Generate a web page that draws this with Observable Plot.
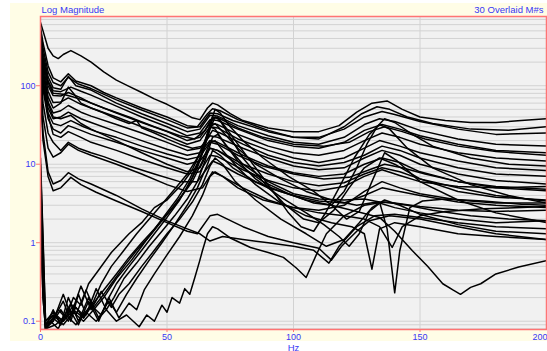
<!DOCTYPE html>
<html><head><meta charset="utf-8">
<script src="https://cdn.jsdelivr.net/npm/d3@7"></script>
<script src="https://cdn.jsdelivr.net/npm/@observablehq/plot@0.6"></script>
<style>
html,body{margin:0;padding:0;background:#fff;}
#wrap{position:relative;width:547px;height:351px;overflow:hidden;}
#cream{position:absolute;left:10px;top:3px;width:537px;height:338px;background:#fffde6;}
#chart{position:absolute;left:0;top:0;}
</style></head><body>
<div id="wrap"><div id="cream"></div><div id="chart"></div></div>
<script>
// Tick labels and gridlines
const xTicks = [0, 50, 100, 150];
const xLastTick = [200];
const xGrid = [50, 100, 150];
const yTicks = [0.1, 1, 10, 100];
const yGrid = [0.08,0.09,0.1,0.2,0.3,0.4,0.5,0.6,0.7,0.8,0.9,1,2,3,4,5,6,7,8,9,10,20,30,40,50,60,70,80,90,100,200,300,400,500,600,700];
const title = "Log Magnitude";
const subtitle = "30 Overlaid M#s";
const xLabel = "Hz";

// 30 overlaid magnitude curves: [frequency Hz, magnitude]
const h01 = [[0,640],[1,500],[3,300],[5,240],[7,222],[9,250],[12,280],[16,240],[20,200],[25,150],[30,118],[35,98],[40,82],[45,68],[50,58],[55,48],[60,39],[63,37],[66,52],[68,60],[70,57],[75,44],[80,36],[90,29],[100,26],[110,26],[118,31],[125,46],[131,60],[137,64],[143,50],[150,40],[160,36],[170,34],[180,34],[190,36],[200,38]];
const h02 = [[0,560],[1,350],[3,180],[5,126],[8,112],[11,142],[14,115],[20,100],[25,82],[30,70],[40,52],[50,40],[58,31],[62,30],[66,44],[68,51],[71,48],[78,37],[90,27],[100,22],[110,21],[120,30],[127,44],[133,54],[138,50],[145,40],[155,33],[170,28],[185,27],[200,30]];
const h03 = [[0,500],[1,300],[3,150],[5,110],[8,100],[11,128],[15,105],[20,92],[30,66],[40,49],[50,37],[58,29],[63,30],[67,45],[70,44],[76,36],[90,26],[100,22],[110,22],[120,28],[128,40],[135,47],[140,43],[150,35],[165,28],[180,24],[200,25]];
const h04 = [[0,450],[1,260],[3,130],[5,94],[8,90],[11,132],[14,100],[20,88],[30,60],[40,44],[50,33],[58,26],[63,28],[67,42],[70,41],[78,31],[90,23],[100,19],[110,18],[120,22],[128,32],[134,38],[140,35],[150,27],[165,21],[180,18],[200,17]];
const h05 = [[0,420],[1,230],[3,115],[5,86],[8,84],[12,96],[16,85],[20,76],[30,55],[40,40],[50,30],[58,23],[63,25],[67,37],[70,36],[78,28],[90,20],[100,17],[110,16],[120,19],[128,27],[135,32],[142,28],[150,23],[165,18],[180,15],[200,14]];
const h06 = [[0,380],[1,200],[3,100],[5,75],[8,74],[11,82],[16,70],[20,60],[30,45],[40,34],[50,26],[58,20],[63,22],[67,33],[70,32],[78,24],[90,17],[100,14],[110,13],[120,15],[128,20],[135,25],[142,22],[150,18],[165,14],[180,12],[200,11]];
const h07 = [[0,350],[1,180],[3,85],[5,61],[8,62],[11,70],[16,58],[20,52],[30,40],[40,30],[50,23],[58,18],[63,20],[67,30],[70,29],[78,21],[90,15],[100,12],[110,10.5],[120,12],[128,16],[134,20],[142,17],[150,14],[165,11],[180,9],[200,8.3]];
const h08 = [[0,320],[1,160],[3,72],[5,52],[8,60],[11,96],[13,80],[16,60],[20,52],[25,45],[30,38],[35,33],[38,36],[40,29],[45,25],[50,21],[55,18],[60,16],[64,17],[68,27],[71,25],[80,18],[90,13],[100,10.5],[110,9.5],[120,10.5],[128,13],[135,17],[142,15],[150,12],[165,9],[180,7.5],[200,7]];
const h09 = [[0,300],[1,140],[3,62],[5,45],[8,48],[11,56],[16,46],[20,41],[30,32],[40,25],[50,19],[58,15],[63,16],[67,23],[70,22],[80,16],[90,12],[100,9.5],[110,8.5],[120,9],[128,12],[135,15],[142,13],[150,10],[165,7.5],[180,6.2],[200,5.6]];
const h10 = [[0,270],[1,120],[3,52],[5,38],[8,40],[11,46],[16,38],[20,34],[30,26],[40,20],[50,15.5],[58,13],[63,14],[67,20],[70,19],[80,13],[90,9.5],[100,7.8],[110,7],[120,7.5],[128,10],[135,12],[142,10.5],[150,8],[165,6],[180,5],[200,4.6]];
const h11 = [[0,240],[1,90],[3,38],[5,28],[8,25],[11,31],[16,27],[20,24],[30,19],[40,15],[50,12],[58,10],[63,11],[67,16],[70,15],[80,10],[90,7.5],[100,6],[110,5.3],[120,5.8],[128,7.5],[135,9],[142,8],[150,6.5],[165,5],[180,4],[200,3.4]];
const h12 = [[0,200],[1,60],[3,25],[5,19],[8,15],[11,19],[15,16],[20,14],[25,12.5],[35,9.5],[45,7.5],[55,6],[62,6],[66,9],[68,11],[71,10],[78,7.5],[90,5],[100,4],[110,3.4],[120,3.2],[128,4],[135,5],[142,4.5],[150,4],[165,3.3],[180,3],[200,2.8]];
const h13 = [[0,400],[1,210],[3,110],[5,80],[9,78],[13,72],[18,64],[25,52],[35,40],[45,30],[55,23],[61,21],[65,27],[68,40],[71,38],[78,29],[88,22],[100,18],[112,17],[122,19],[130,26],[136,30],[143,26],[152,21],[165,17],[180,14.5],[200,13]];
const h14 = [[0,280],[1,110],[3,45],[5,33],[8,31],[12,36],[17,30],[22,26],[30,22],[40,17],[50,13.5],[58,11.5],[63,12.5],[67,19],[70,18],[78,13],[88,9.5],[100,7.5],[112,6.5],[122,6.8],[130,8.5],[136,10],[143,9],[152,7.5],[165,6],[180,5.2],[200,4.8]];
const h15 = [[0,260],[1,100],[3,42],[5,24],[8,22],[11,26],[16,22],[20,19],[30,15],[40,11.5],[50,9],[58,7.5],[63,8],[67,13],[70,12.5],[80,8.5],[90,6.2],[100,5],[110,4.6],[120,5.2],[128,7],[135,8.5],[142,7.2],[150,6],[165,5.2],[180,5],[200,5.2]];
const m01 = [[0,150],[1,40],[3,16],[5,12.3],[8,14],[11,18],[15,15],[20,13],[30,10],[40,7.5],[50,5.5],[58,4.5],[64,5],[68,8],[72,7],[80,5],[90,3.5],[100,2.8],[110,2.6],[120,3],[128,4.5],[135,6],[142,5],[150,4.2],[165,3.5],[180,3.2],[200,3.2]];
const m02 = [[0,100],[1,25],[3,8],[5,5.6],[8,6.2],[11,7.8],[15,6.5],[20,5.6],[30,4],[40,2.7],[50,1.9],[58,1.5],[63,1.3],[67,1.05],[72,1.2],[80,1.1],[90,1.0],[100,0.9],[108,0.8],[114,0.55],[118,0.9],[125,1.6],[132,2.2],[140,2.3],[150,2.1],[165,1.8],[180,1.6],[200,1.5]];
const m03 = [[0,80],[1,20],[3,7],[5,4.6],[8,5],[12,6.8],[16,5.5],[22,4.4],[30,3.4],[40,2.5],[50,1.8],[58,1.4],[62,1.3],[67,2.2],[70,2.3],[80,1.6],[90,1.2],[100,1.0],[110,0.85],[115,0.6],[119,0.9],[125,1.4],[130,1.9],[138,2.2],[150,2.0],[165,1.6],[180,1.3],[200,1.1]];
const l01 = [[0,4],[1,0.4],[2,0.09],[4,0.1],[7,0.14],[10,0.11],[13,0.2],[16,0.16],[19,0.3],[23,0.45],[28,0.75],[35,1.3],[40,1.8],[45,2.8],[50,3.5],[56,5.6],[60,8.5],[64,16],[67,30],[69,33],[72,26],[78,16],[85,10],[95,6.5],[105,4.5],[115,3.5],[125,3],[133,3.3],[140,3.2],[150,2.9],[165,2.6],[180,2.5],[200,2.6]];
const l02 = [[0,6],[1,0.5],[2,0.085],[5,0.14],[8,0.09],[11,0.2],[14,0.12],[18,0.25],[21,0.15],[25,0.22],[28,0.3],[33,0.5],[38,0.8],[43,1.2],[48,1.9],[53,3],[58,5],[62,9],[65,17],[67,28],[69,40],[71,36],[75,22],[80,12],[88,6],[96,3.2],[104,2],[110,1.8],[116,2.6],[122,5],[128,9],[134,12],[140,10],[150,6.5],[165,4.5],[180,3.8],[200,3.5]];
const l03 = [[0,3],[1,0.3],[2,0.08],[6,0.12],[9,0.18],[12,0.1],[15,0.22],[18,0.12],[22,0.26],[26,0.14],[29,0.2],[33,0.35],[38,0.55],[43,0.9],[48,1.4],[53,2.2],[58,3.6],[62,6],[65,11],[68,22],[70,24],[73,18],[78,11],[85,6.5],[95,3.8],[105,2.4],[112,1.7],[118,1.2],[122,0.9],[126,1.3],[130,2.5],[134,3.2],[140,2.8],[150,2.4],[165,2],[180,1.8],[200,1.9]];
const l04 = [[0,5],[1,0.4],[2,0.09],[5,0.1],[9,0.22],[12,0.12],[16,0.28],[20,0.14],[24,0.24],[28,0.15],[31,0.22],[35,0.3],[40,0.5],[45,0.8],[50,1.3],[55,2],[60,3.3],[64,5.5],[67,9.5],[69,12],[72,10],[77,6],[85,3.5],[95,2],[105,1.3],[113,0.9],[120,1.1],[126,1.8],[131,2.8],[136,3.5],[142,3],[150,2.3],[165,1.7],[180,1.4],[200,1.3]];
const l05 = [[0,4],[1,0.3],[2,0.08],[5,0.11],[8,0.09],[12,0.17],[15,0.1],[19,0.2],[23,0.11],[27,0.18],[30,0.13],[34,0.22],[38,0.35],[43,0.6],[48,1],[53,1.7],[58,3],[62,5],[66,10],[68,15],[71,13],[76,9],[85,6],[95,4.5],[105,3.5],[115,3],[125,2.5],[134,2.1],[140,1.4],[147,0.79],[153,0.5],[159,0.3],[163,0.25],[166,0.22],[170,0.27],[174,0.3],[180,0.4],[189,0.49],[200,0.59]];
const l06 = [[0,2],[1,0.2],[2,0.08],[6,0.09],[10,0.12],[14,0.09],[18,0.13],[22,0.1],[26,0.14],[30,0.1],[34,0.12],[39,0.085],[42,0.12],[45,0.1],[48,0.16],[50,0.13],[52,0.2],[55,0.17],[57,0.26],[59,0.22],[61,0.36],[63,0.6],[64,0.79],[66,1.3],[68,1.6],[70,1.5],[75,1.15],[83,0.87],[90,0.75],[96,0.65],[101,0.48],[105,0.36],[109,0.7],[113,1.3],[120,2.2],[128,3],[136,3.3],[145,3],[155,2.6],[170,2.2],[185,2],[200,1.9]];
const l07 = [[0,3],[1,0.25],[2,0.08],[4,0.1],[7,0.08],[11,0.15],[15,0.09],[19,0.18],[23,0.1],[27,0.2],[31,0.11],[35,0.17],[38,0.14],[41,0.25],[45,0.4],[50,0.7],[55,1.2],[60,2.2],[64,4],[67,7],[69,8],[72,7],[78,5],[88,3.5],[100,2.8],[110,2.4],[120,2.2],[128,2],[134,1.6],[139,0.87],[143,1.6],[150,2.2],[160,2.5],[175,2.7],[190,2.8],[200,2.9]];
const l08 = [[0,2],[1,0.2],[2,0.08],[5,0.1],[8,0.14],[11,0.1],[14,0.15],[17,0.11],[20,0.16],[24,0.12],[27,0.2],[30,0.3],[35,0.5],[40,0.8],[45,1.3],[50,2.1],[55,3.5],[60,6.8],[64,14],[67,32],[69,50],[71,45],[75,30],[80,20],[88,12],[98,7],[108,4.5],[115,3],[121,2],[126,2.5],[131,6],[136,14],[141,11],[150,6],[165,3.5],[180,2.4],[200,1.8]];
const n01 = [[0,8],[1,0.6],[2,0.09],[5,0.12],[9,0.1],[13,0.14],[17,0.11],[21,0.17],[25,0.25],[30,0.4],[35,0.65],[40,1],[45,1.5],[50,2.3],[55,3.6],[60,6],[64,11],[67,19],[69,20],[72,15],[78,9],[85,5.5],[95,3.2],[105,2.2],[115,1.8],[123,1.6],[128,1.3],[131,0.46],[134,1.5],[140,1.8],[150,1.6],[165,1.3],[180,1.2],[200,1.1]];
const n02 = [[0,10],[1,1],[2,0.1],[5,0.13],[9,0.1],[13,0.16],[17,0.12],[21,0.18],[24,0.3],[28,0.5],[33,0.8],[38,1.3],[43,2],[48,3.1],[53,4.8],[58,7.5],[62,12],[65,20],[67,30],[69,28],[73,18],[80,10],[90,6],[100,4.2],[110,3.6],[120,3.5],[128,3.6],[134,3.3],[137,1.5],[140,0.23],[142,0.79],[146,2.8],[151,3.4],[160,3.6],[175,3.4],[190,3.1],[200,3]];
const u01 = [[0,12],[1,1.2],[2,0.1],[5,0.12],[9,0.09],[13,0.13],[17,0.1],[21,0.14],[25,0.2],[30,0.35],[36,0.6],[42,1.1],[48,2],[54,3.6],[59,6.5],[63,12],[66,22],[68,38],[70,40],[73,30],[78,18],[85,9],[92,4.5],[98,2.4],[103,1.6],[108,1.4],[113,2.5],[118,5],[124,12],[130,24],[134,32],[138,28],[145,16],[155,9],[170,5.5],[185,4],[200,3.2]];
const u02 = [[0,350],[1,150],[3,60],[5,40],[8,38],[12,42],[16,33],[20,28],[30,20],[40,14],[50,10],[58,8],[63,9],[67,16],[70,15],[78,10],[88,6],[98,4.2],[108,3.2],[115,3],[120,4.5],[125,9],[129,18],[133,30],[136,38],[140,34],[147,24],[155,17],[170,12],[185,10],[200,9.5]];

const curves = [h01,h02,h03,h04,h05,h06,h07,h08,h09,h10,h11,h12,h13,h14,h15,m01,m02,m03,l01,l02,l03,l04,l05,l06,l07,l08,n01,n02,u01,u02];
const rows = curves.flatMap((c, i) => c.map(([f, v]) => ({id: i, f, v})));

const blue = "#3838f4";
const red = "#ff7474";
const chart = Plot.plot({
  width: 547, height: 351,
  marginLeft: 40, marginRight: 1, marginTop: 16, marginBottom: 22,
  style: {background: "transparent", fontFamily: "'Liberation Sans', Arial, sans-serif", fontSize: "9px"},
  x: {domain: [0, 200]},
  y: {type: "log", domain: [0.0784, 762]},
  marks: [
    Plot.frame({fill: "#f1f1f1", stroke: null}),
    Plot.gridY(yGrid, {stroke: "#d2d2d2", strokeOpacity: 1}),
    Plot.gridX(xGrid, {stroke: "#d2d2d2", strokeOpacity: 1}),
    Plot.line(rows, {x: "f", y: "v", z: "id", stroke: "#000", strokeWidth: 1.5, clip: true}),
    Plot.frame({stroke: red, strokeWidth: 1.5}),
    Plot.axisY(yTicks, {tickSize: 4, tickPadding: 1, stroke: red, fill: blue, tickFormat: d => String(d), label: null}),
    Plot.axisX(xTicks, {tickSize: 3, tickPadding: 1, stroke: red, fill: blue, tickFormat: d => String(d), label: null}),
    Plot.axisX(xLastTick, {tickSize: 3, tickPadding: 1, stroke: red, fill: blue, textAnchor: "end", dx: 1, tickFormat: d => String(d), label: null}),
    Plot.text([xLabel], {text: d => d, frameAnchor: "bottom", dy: 21, fill: blue, fontSize: 9.5}),
    Plot.text([title], {text: d => d, frameAnchor: "top-left", dy: -10, dx: 1, textAnchor: "start", fill: blue, fontSize: 9.5}),
    Plot.text([subtitle], {text: d => d, frameAnchor: "top-right", dy: -10, dx: -3, textAnchor: "end", fill: blue, fontSize: 9.5})
  ]
});
document.getElementById("chart").appendChild(chart);
</script>
</body></html>
